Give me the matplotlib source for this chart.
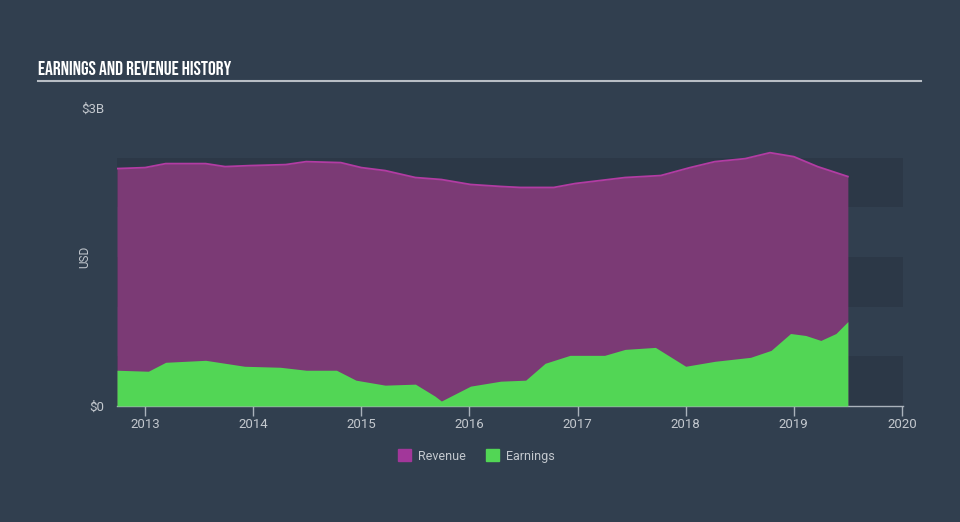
import matplotlib
matplotlib.use("Agg")
import matplotlib.pyplot as plt
import matplotlib.patches as mpatches
import numpy as np

# Data (values in $B), dates in decimal years
rev_dates = [2012.74, 2013.0, 2013.19, 2013.56, 2013.74, 2013.97, 2014.30, 2014.49, 2014.81,
             2015.0, 2015.22, 2015.50, 2015.74, 2016.01, 2016.29, 2016.47, 2016.78,
             2016.98, 2017.21, 2017.44, 2017.77, 2018.04, 2018.27, 2018.55, 2018.78,
             2019.0, 2019.22, 2019.50]
rev_vals = [2.39, 2.40, 2.44, 2.44, 2.41, 2.42, 2.43, 2.46, 2.45,
            2.40, 2.37, 2.30, 2.28, 2.23, 2.21, 2.20, 2.20,
            2.24, 2.27, 2.30, 2.32, 2.40, 2.46, 2.49, 2.55,
            2.51, 2.41, 2.31]

earn_dates = [2012.74, 2013.03, 2013.19, 2013.56, 2013.74, 2013.92, 2014.25, 2014.49, 2014.77,
              2014.95, 2015.22, 2015.50, 2015.68, 2015.74, 2016.01, 2016.29, 2016.52,
              2016.70, 2016.93, 2017.25, 2017.44, 2017.72, 2018.0, 2018.27, 2018.60,
              2018.79, 2018.97, 2019.11, 2019.25, 2019.39, 2019.50]
earn_vals = [0.36, 0.35, 0.44, 0.46, 0.43, 0.40, 0.39, 0.36, 0.36,
             0.26, 0.21, 0.22, 0.10, 0.05, 0.20, 0.25, 0.26,
             0.43, 0.51, 0.51, 0.57, 0.59, 0.40, 0.45, 0.49,
             0.56, 0.73, 0.71, 0.66, 0.73, 0.85]

x_ticks = [2013, 2014, 2015, 2016, 2017, 2018, 2019, 2020]
y_ticks = [0, 3]
y_labels = ["$0", "$3B"]

BG = "#313f4f"
BAND = "#2c3847"
REV_FILL = "#7b3a75"
REV_LINE = "#b23ca3"
EARN = "#52d655"
TXT = "#c3c8ce"
FONT = ["Roboto", "DejaVu Sans"]

fig = plt.figure(figsize=(9.6, 5.22), dpi=100, facecolor=BG)
ax = fig.add_axes([117/960, 1-406/522, (903-117)/960, 298/522])
ax.set_facecolor(BG)

for lo, hi in [(0, 0.5), (1.0, 1.5), (2.0, 2.5)]:
    ax.axhspan(lo, hi, color=BAND, lw=0, zorder=0)

ax.fill_between(rev_dates, rev_vals, color=REV_FILL, lw=0, zorder=1)
ax.plot(rev_dates, rev_vals, color=REV_LINE, lw=1.3, zorder=2)
ax.fill_between(earn_dates, earn_vals, color=EARN, lw=0, zorder=3)

ax.set_xlim(2012.74, 2020.01)
ax.set_ylim(0, 3)
for s in ["top", "right", "left"]:
    ax.spines[s].set_visible(False)
ax.spines["bottom"].set_color("#aab2bb")
ax.spines["bottom"].set_linewidth(1)
ax.set_xticks(x_ticks)
ax.set_xticklabels([str(t) for t in x_ticks], family=FONT)
ax.tick_params(axis="x", colors="#aab2bb", labelcolor=TXT, length=7, width=1, labelsize=9.5, pad=1.5)
ax.set_yticks(y_ticks)
ax.set_yticklabels(y_labels, family=FONT)
ax.tick_params(axis="y", length=0, labelcolor=TXT, labelsize=9.5, pad=9)
ax.set_ylabel("USD", color=TXT, fontsize=8.5, family=FONT)
ax.yaxis.set_label_coords(-0.033, 0.5)

fig.text(38/960, 1-68/522, "EARNINGS AND REVENUE HISTORY", color="white", fontsize=14,
         family=["Bebas Neue", "Oswald", "DejaVu Sans"], va="center")
fig.add_artist(plt.Line2D([38/960, 921/960], [1-81/522, 1-81/522], color="#b8bec5", lw=1.5))

handles = [mpatches.Patch(color="#a2379a", label="Revenue"),
           mpatches.Patch(color=EARN, label="Earnings")]
leg = fig.legend(handles=handles, loc="center", bbox_to_anchor=(476/960, 1-456/522), ncol=2,
                 frameon=False, prop={"family": FONT, "size": 9}, handlelength=1.1, handleheight=1.1,
                 columnspacing=1.6, handletextpad=0.5)
for t in leg.get_texts():
    t.set_color(TXT)

fig.savefig("out.png", dpi=100, facecolor=BG)
